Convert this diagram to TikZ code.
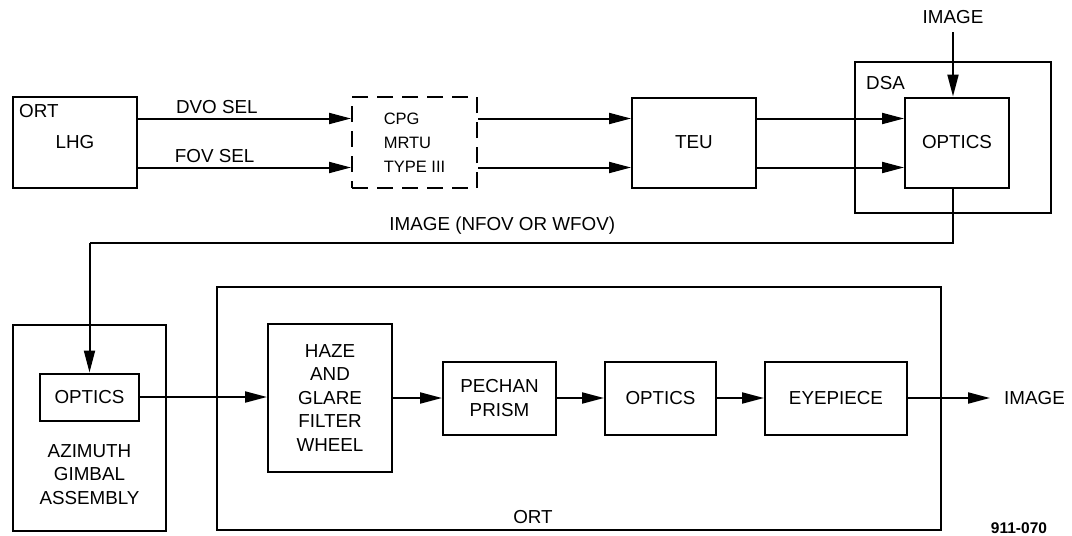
\documentclass[tikz,border=0pt]{standalone}
\usepackage{fontspec}
\setmainfont{Liberation Sans}
\usepackage{tikz}
\usetikzlibrary{shapes,arrows.meta,positioning}

\begin{document}
\begin{tikzpicture}[x=1pt, y=-1pt, every node/.style={font=\fontsize{18.8}{23.5}\selectfont}]
    \tikzstyle{block} = [rectangle, draw, line width=2pt, align=center, inner sep=0pt]
    \tikzstyle{dashblock} = [block, dash pattern=on 16pt off 9pt, align=left]
    \tikzstyle{line} = [draw, line width=2pt, -{Triangle[length=22pt, width=11pt]}]
    \tikzstyle{wire} = [draw, line width=2pt]
    \tikzstyle{tag} = [inner sep=0pt]

    \useasboundingbox (0,0) rectangle (1072,536);

    % top row
    \node [block, minimum width=124pt, minimum height=91pt] (lhg) at (75,142.5) {LHG};
    \node [tag, anchor=north west] (lhgtag) at ([xshift=7pt, yshift=-8pt]lhg.north west) {ORT};
    \node [dashblock, minimum width=125pt, minimum height=91pt, right of=lhg, node distance=339.5pt,
           font=\fontsize{16.5}{24}\selectfont] (cpg) {CPG\\MRTU\\TYPE III};
    \node [block, minimum width=124pt, minimum height=90pt, right of=cpg, node distance=279.5pt] (teu) {TEU};
    \node [block, minimum width=196pt, minimum height=151pt] (dsa) at (953,137.5) {};
    \node [tag, anchor=north west] (dsatag) at ([xshift=12pt, yshift=-15pt]dsa.north west) {DSA};
    \node [block, minimum width=104pt, minimum height=90pt, right of=teu, node distance=263pt] (optics1) {OPTICS};
    \node [tag] (imgtop) at (953,17) {IMAGE};
    \coordinate (imgtopend) at (953,32);

    % bottom row
    \node [block, minimum width=153pt, minimum height=206pt] (azim) at (89.5,428) {};
    \node [block, minimum width=99pt, minimum height=47pt] (optics2) at (89.5,397) {OPTICS};
    \node [tag, align=center] (azimtext) at (89.5,474.5) {AZIMUTH\\GIMBAL\\ASSEMBLY};
    \node [block, minimum width=724pt, minimum height=243pt] (ortbox) at (579,408.5) {};
    \node [tag] (orttag) at (533,517) {ORT};
    \node [block, minimum width=124pt, minimum height=148pt] (haze) at (330,398) {HAZE\\AND\\GLARE\\FILTER\\WHEEL};
    \node [block, minimum width=113pt, minimum height=73pt, right of=haze, node distance=169.5pt] (pechan) {PECHAN\\PRISM};
    \node [block, minimum width=111pt, minimum height=73pt, right of=pechan, node distance=161pt] (optics3) {OPTICS};
    \node [block, minimum width=142pt, minimum height=73pt, right of=optics3, node distance=175.5pt] (eyepiece) {EYEPIECE};
    \coordinate (imgout) at (990,398);
    \node [tag, anchor=west] (imgoutlabel) at (1004,398) {IMAGE};
    \node [tag, font=\fontsize{15.5}{18}\selectfont\bfseries] (fignum) at (1019,528) {911-070};

    \coordinate (bend1) at (953,243);
    \coordinate (bend2) at (89.5,243);

    % signals
    \path [line] ([yshift=24pt]lhg.east) -- node [above, pos=0.37, inner sep=4pt] {DVO SEL} ([yshift=24pt]cpg.west);
    \path [line] ([yshift=-25pt]lhg.east) -- node [above, pos=0.36, inner sep=4pt] {FOV SEL} ([yshift=-25pt]cpg.west);
    \path [line] ([yshift=24pt]cpg.east) -- ([yshift=24pt]teu.west);
    \path [line] ([yshift=-25pt]cpg.east) -- ([yshift=-25pt]teu.west);
    \path [line] ([yshift=24pt]teu.east) -- ([yshift=24pt]optics1.west);
    \path [line] ([yshift=-25pt]teu.east) -- ([yshift=-25pt]optics1.west);
    \path [line] (imgtopend) -- (imgtopend |- optics1.north);

    \path [wire] (bend1 |- optics1.south) -- (bend1) -- node [above, pos=0.522, inner sep=8pt] {IMAGE (NFOV OR WFOV)} (bend2);
    \path [line] (bend2) -- (optics2.north);

    \path [line] (optics2.east) -- (optics2.east -| haze.west);
    \path [line] (haze.east |- pechan.west) -- (pechan.west);
    \path [line] (pechan) -- (optics3);
    \path [line] (optics3) -- (eyepiece);
    \path [line] (eyepiece.east) -- (imgout);
\end{tikzpicture}
\end{document}
